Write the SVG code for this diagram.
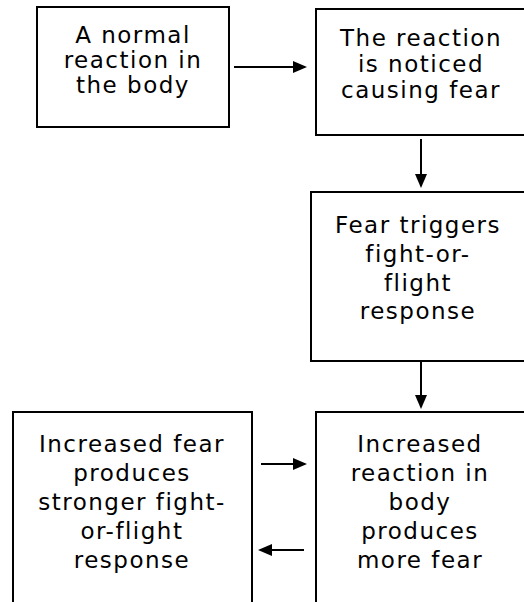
<svg xmlns="http://www.w3.org/2000/svg" width="524" height="602" viewBox="0 0 524 602">
<defs>
<style>
.box{fill:#fff;stroke:#000;stroke-width:2}
.t{font-family:"DejaVu Sans",Verdana,sans-serif;font-size:23px;fill:#000;text-anchor:middle;letter-spacing:1.5px}
.c{stroke:#000;stroke-width:2;fill:none}
.h{fill:#000}
</style>
</defs>
<rect width="524" height="602" fill="#fff"/>
<g id="node1">
<rect class="box" x="37" y="7" width="192" height="120"/>
<text class="t"><tspan x="133" y="43">A normal</tspan><tspan x="133" y="68">reaction in</tspan><tspan x="133" y="93">the body</tspan></text>
</g>
<g id="node2">
<rect class="box" x="316" y="9" width="230" height="126"/>
<text class="t"><tspan x="421" y="46">The reaction</tspan><tspan x="421" y="72">is noticed</tspan><tspan x="421" y="98">causing fear</tspan></text>
</g>
<g id="node3">
<rect class="box" x="311" y="192" width="230" height="169"/>
<text class="t"><tspan x="418" y="233">Fear triggers</tspan><tspan x="418" y="262">fight-or-</tspan><tspan x="418" y="291">flight</tspan><tspan x="418" y="319">response</tspan></text>
</g>
<g id="node4">
<rect class="box" x="316" y="412" width="230" height="220"/>
<text class="t"><tspan x="420" y="452">Increased</tspan><tspan x="420" y="481">reaction in</tspan><tspan x="420" y="510">body</tspan><tspan x="420" y="539">produces</tspan><tspan x="420" y="568">more fear</tspan></text>
</g>
<g id="node5">
<rect class="box" x="13" y="412" width="239" height="220"/>
<text class="t"><tspan x="132" y="452">Increased fear</tspan><tspan x="132" y="481">produces</tspan><tspan x="132" y="510">stronger fight-</tspan><tspan x="132" y="539">or-flight</tspan><tspan x="132" y="568">response</tspan></text>
</g>
<g id="connectors">
<line class="c" x1="234" y1="67" x2="295" y2="67"/>
<polygon class="h" points="293,61 307,67 293,73"/>
<line class="c" x1="421" y1="139" x2="421" y2="176"/>
<polygon class="h" points="415,174 421,188 427,174"/>
<line class="c" x1="421" y1="362" x2="421" y2="397"/>
<polygon class="h" points="415,395 421,409 427,395"/>
<line class="c" x1="261" y1="464" x2="295" y2="464"/>
<polygon class="h" points="293,458 307,464 293,470"/>
<line class="c" x1="304" y1="550" x2="270" y2="550"/>
<polygon class="h" points="272,544 258,550 272,556"/>
</g>
</svg>
